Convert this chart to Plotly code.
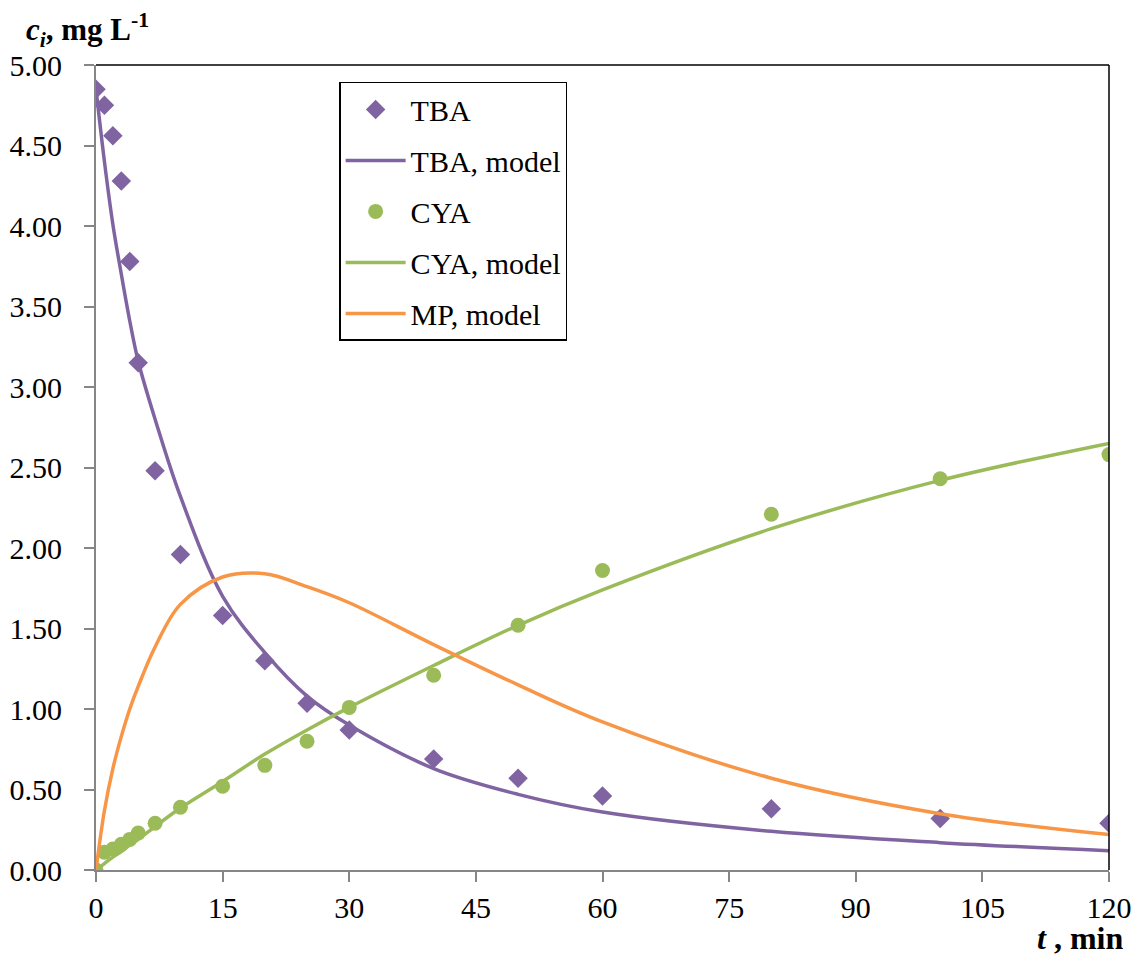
import plotly.graph_objects as go

# Experimental data
t_exp = [0, 1, 2, 3, 4, 5, 7, 10, 15, 20, 25, 30, 40, 50, 60, 80, 100, 120]
tba_exp = [4.85, 4.75, 4.56, 4.28, 3.78, 3.15, 2.48, 1.96, 1.58, 1.30, 1.035, 0.87, 0.69, 0.57, 0.46, 0.38, 0.32, 0.29]
cya_exp = [0.0, 0.11, 0.13, 0.16, 0.19, 0.23, 0.29, 0.39, 0.52, 0.65, 0.80, 1.01, 1.21, 1.52, 1.86, 2.21, 2.43, 2.58]

# Model curves
t_mod = [0, 1, 2, 3, 4, 5, 7, 10, 15, 20, 25, 30, 40, 50, 60, 80, 100, 120]
tba_mod = [4.85, 4.40, 4.01, 3.70, 3.41, 3.16, 2.80, 2.32, 1.70, 1.35, 1.08, 0.90, 0.63, 0.47, 0.36, 0.24, 0.17, 0.12]
cya_mod = [0.0, 0.04, 0.08, 0.115, 0.155, 0.19, 0.27, 0.385, 0.55, 0.72, 0.87, 1.01, 1.27, 1.52, 1.74, 2.12, 2.42, 2.65]
mp_mod = [0.0, 0.37, 0.63, 0.83, 1.00, 1.14, 1.385, 1.65, 1.82, 1.84, 1.76, 1.66, 1.40, 1.15, 0.92, 0.57, 0.35, 0.22]

x_ticks = [0, 15, 30, 45, 60, 75, 90, 105, 120]
y_ticks = [0, 0.5, 1.0, 1.5, 2.0, 2.5, 3.0, 3.5, 4.0, 4.5, 5.0]

PURPLE = "#8064A2"
GREEN = "#9BBB59"
ORANGE = "#F79646"
FONT = "Liberation Serif"

fig = go.Figure()
fig.add_trace(go.Scatter(x=t_exp, y=tba_exp, mode="markers", name="TBA", legendgroup="a",
                         marker=dict(symbol="diamond", size=15, color=PURPLE)))
fig.add_trace(go.Scatter(x=t_mod, y=tba_mod, mode="lines", name="TBA, model", legendgroup="b",
                         line=dict(color=PURPLE, width=3.5, shape="spline")))
fig.add_trace(go.Scatter(x=t_exp, y=cya_exp, mode="markers", name="CYA", legendgroup="c",
                         marker=dict(symbol="circle", size=15, color=GREEN)))
fig.add_trace(go.Scatter(x=t_mod, y=cya_mod, mode="lines", name="CYA, model", legendgroup="d",
                         line=dict(color=GREEN, width=3.5, shape="spline")))
fig.add_trace(go.Scatter(x=t_mod, y=mp_mod, mode="lines", name="MP, model", legendgroup="e",
                         line=dict(color=ORANGE, width=3.5, shape="spline")))

fig.update_layout(
    width=1139, height=948,
    margin=dict(l=88, r=38, t=57, b=86),
    paper_bgcolor="white", plot_bgcolor="white",
    font=dict(family=FONT, size=30, color="black"),
    showlegend=True,
    legend=dict(x=0.24, y=0.979, xanchor="left", yanchor="top",
                bordercolor="black", borderwidth=1.5, bgcolor="white",
                font=dict(family=FONT, size=30), tracegroupgap=9,
                itemwidth=60),
)
fig.update_xaxes(range=[0, 120], tickvals=x_ticks, ticktext=[str(v) for v in x_ticks],
                 automargin=False,
                 showgrid=False, zeroline=False, showline=True, linecolor="#868686", linewidth=2,
                 ticks="outside", ticklen=10, tickcolor="#868686", tickwidth=2,
                 tickfont=dict(family=FONT, size=30))
fig.update_yaxes(range=[0, 5], tickvals=y_ticks, ticktext=[f"{v:.2f}" for v in y_ticks],
                 automargin=False,
                 showgrid=False, zeroline=False, showline=True, linecolor="#868686", linewidth=2,
                 ticks="outside", ticklen=10, tickcolor="#868686", tickwidth=2,
                 ticklabelstandoff=16,
                 tickfont=dict(family=FONT, size=30))

# Top and right frame lines
fig.add_shape(type="line", xref="x domain", yref="y domain", x0=0, x1=1, y0=1, y1=1,
              line=dict(color="black", width=1.5))
fig.add_shape(type="line", xref="x domain", yref="y domain", x0=1, x1=1, y0=0, y1=1,
              line=dict(color="black", width=1.5))

fig.add_annotation(text="<b><i>c</i><sub><i>i</i></sub>, mg L<sup>-1</sup></b>",
                   xref="paper", yref="paper", x=-0.071, y=1.043, xanchor="left", yanchor="middle",
                   showarrow=False, font=dict(family=FONT, size=31))
fig.add_annotation(text="<b><i>t</i> , min</b>",
                   xref="paper", yref="paper", x=1.0158, y=-0.0845, xanchor="right", yanchor="middle",
                   showarrow=False, font=dict(family=FONT, size=32))

fig.write_html("out.html")
